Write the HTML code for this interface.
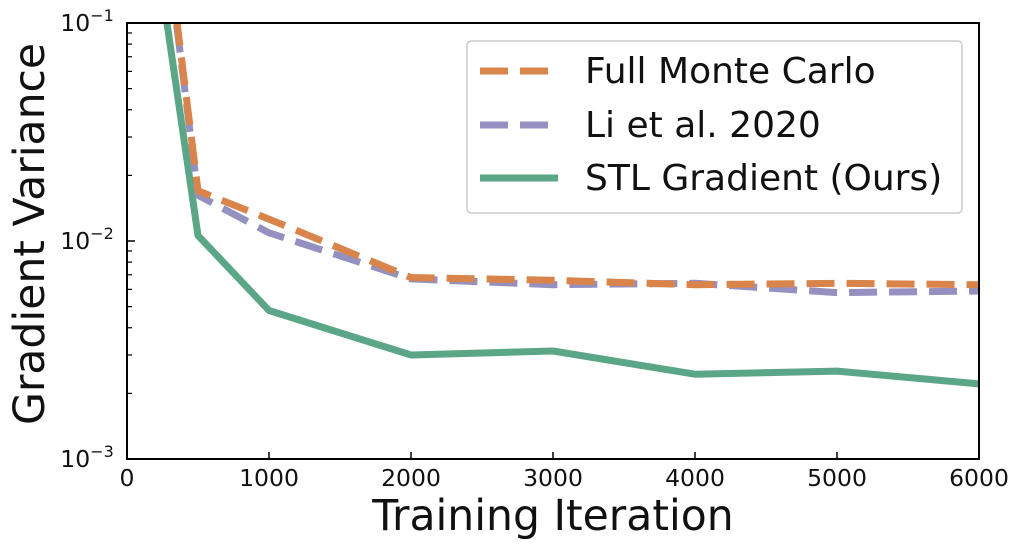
<!DOCTYPE html>
<html><head><meta charset="utf-8"><style>
html,body{margin:0;padding:0;background:#fff;}
svg{display:block;font-family:"DejaVu Sans","Liberation Sans",sans-serif;}
</style></head><body>
<svg id="chart" width="1024" height="550">
<g id="marks"></g>
<g id="axes"></g>
</svg>
<script>
const iterations = [0, 500, 1000, 2000, 3000, 4000, 5000, 6000];
const fullMC = [7.0, 0.0170, 0.0126, 0.0068, 0.0066, 0.0063, 0.0064, 0.0063];
const liEtAl = [6.5, 0.0162, 0.0109, 0.0067, 0.0063, 0.0064, 0.0058, 0.0059];
const stlGrad = [1.8, 0.0106, 0.0048, 0.0030, 0.00313, 0.00245, 0.00253, 0.00221];
const xTicks = [0, 1000, 2000, 3000, 4000, 5000, 6000];
const yTicks = [-3, -2, -1];

const L=127, R=979, T=23, B=459;
const NS="http://www.w3.org/2000/svg";
function xs(v){return L + (v/6000)*(R-L);}
function ys(v){return B - (Math.log10(v)+3)/2*(B-T);}
function mk(tag, attrs, parent){const e=document.createElementNS(NS,tag);for(const k in attrs)e.setAttribute(k,attrs[k]);parent.appendChild(e);return e;}
const svg=document.getElementById('chart');
const marks=document.getElementById('marks');
const axes=document.getElementById('axes');

const defs=mk('defs',{},svg);
const cp=mk('clipPath',{id:'clip'},defs);
mk('rect',{x:L,y:T,width:R-L,height:B-T},cp);
marks.setAttribute('clip-path','url(#clip)');

const series=[
 {name:'series-stl-gradient', vals:stlGrad, color:'#5aa686', dash:null},
 {name:'series-li-et-al-2020', vals:liEtAl, color:'#9491c0', dash:'28 12'},
 {name:'series-full-monte-carlo', vals:fullMC, color:'#d9844a', dash:'28 12'}
];
series.forEach(s=>{
  const d=s.vals.map((v,i)=>(i?'L':'M')+xs(iterations[i]).toFixed(1)+','+ys(v).toFixed(1)).join(' ');
  const p=mk('path',{d:d,fill:'none',stroke:s.color,'stroke-width':7,'stroke-linejoin':'round'},marks);
  if(s.dash) p.setAttribute('stroke-dasharray',s.dash);
  
  
});

const fr=mk('rect',{x:L,y:T,width:R-L,height:B-T,fill:'none',stroke:'#000','stroke-width':2},axes);



xTicks.forEach(v=>{
  const x=xs(v);
  mk('line',{x1:x,x2:x,y1:B,y2:B-7,stroke:'#000','stroke-width':1.5},axes);
  const t=mk('text',{x:x,y:B+27,'font-size':23.5,'text-anchor':'middle',fill:'#111'},axes);
  t.textContent=String(v);
  
  
});
yTicks.forEach(e=>{
  const y=ys(Math.pow(10,e));
  mk('line',{x1:L,x2:L+8,y1:y,y2:y,stroke:'#000','stroke-width':1.5},axes);
  const t=mk('text',{x:L-40,y:y+8,'font-size':23.5,'text-anchor':'middle',fill:'#111'},axes);
  t.textContent='10';
  const sup=mk('tspan',{dy:-10,'font-size':16},t);
  sup.textContent='\u2212'+Math.abs(e);
  
  
  if(e<-1){for(let m=2;m<=9;m++){const ym=ys(m*Math.pow(10,e));mk('line',{x1:L,x2:L+5,y1:ym,y2:ym,stroke:'#000','stroke-width':1.2},axes);}}
});

const xl=mk('text',{x:553,y:530,'font-size':42.5,'text-anchor':'middle',fill:'#111'},axes);
xl.textContent='Training Iteration';


const yl=mk('text',{x:0,y:0,'font-size':42.5,'text-anchor':'middle',fill:'#111',transform:'translate(44,234) rotate(-90)'},axes);
yl.textContent='Gradient Variance';



const lg=mk('g',{},axes);


mk('rect',{x:467,y:41,width:495,height:172,rx:4,fill:'#fff','fill-opacity':0.85,stroke:'#ccc','stroke-width':1.5},lg);
const entries=[
 {label:'Full Monte Carlo', color:'#d9844a', dash:'28 12', y:71},
 {label:'Li et al. 2020', color:'#9491c0', dash:'28 12', y:125},
 {label:'STL Gradient (Ours)', color:'#5aa686', dash:null, y:178}
];
entries.forEach(en=>{
  const g=mk('g',{},lg);
  
  
  const ln=mk('line',{x1:480,x2:558,y1:en.y,y2:en.y,stroke:en.color,'stroke-width':7},g);
  if(en.dash) ln.setAttribute('stroke-dasharray',en.dash);
  const t=mk('text',{x:585,y:en.y+12,'font-size':36,fill:'#111'},g);
  t.textContent=en.label;
});
</script>
</body></html>
